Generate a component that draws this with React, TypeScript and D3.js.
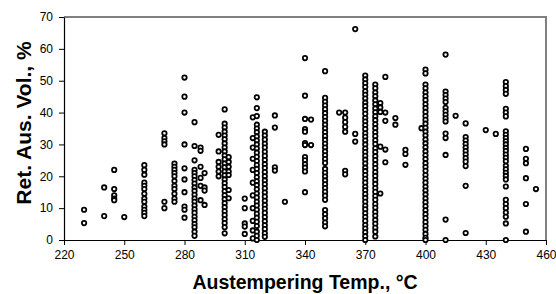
import React, { useRef, useEffect } from "react";
import * as d3 from "d3";

// austempering temperature (°C) of each column of points
const temps = [
  230, 240, 245, 250, 260, 270, 275, 280, 285, 288, 290, 297, 300, 302, 310,
  314, 316, 320, 325, 330, 340, 343, 350, 357, 360, 365, 370, 375, 377.5, 380,
  385, 390, 398, 400, 410, 415, 420, 430, 435, 440, 450, 455,
];

// retained austenite volume (%) for each temperature above
const vols: number[][] = [
  [9.5, 5.3],
  [16.5, 7.5],
  [22, 16, 14, 13, 12.5],
  [7.2],
  [23.5, 22, 20.5, 18, 17, 16, 14.5, 13, 12, 10.5, 9.5, 8.5, 7.5],
  [33.5, 32, 31, 30, 12, 10],
  [24, 23, 22, 21, 20, 18.5, 17, 16, 14.5, 13, 12],
  [51, 45, 40, 30, 22.5, 19, 15, 10.5, 9.5, 7],
  [37, 29.5, 25, 22, 21, 20, 18.8, 17.7, 16.5, 15.4, 14.2, 13, 12, 10.8, 9.6, 8.5, 7.3, 6.2, 5, 4, 2.6, 1.3],
  [29, 28, 23, 19.5, 17, 12.5],
  [21, 16.5, 15.5, 11],
  [33, 27.8, 24.5, 23, 21.5, 20],
  [41, 36.5, 35.3, 34, 32.8, 31.6, 30.3, 29, 27.8, 26.5, 25.3, 24, 22.8, 21.5, 20.3, 19, 17.8, 16.6, 15.3, 14, 12.8, 11.5, 10.3, 9, 7.8, 6.5, 5.3, 4, 2.1],
  [26, 24.5, 23, 21.5, 20.4, 15.7, 13.1],
  [13, 10, 5.2, 4.2, 1.9],
  [38.5, 32, 29, 25.5, 22, 18, 14, 10, 6, 3, 0.5],
  [44.8, 41.4, 38.9, 36.2, 35, 33.8, 32.5, 31.2, 30, 28.7, 27.4, 26.1, 24.8, 23.5, 22.3, 21, 19.7, 18.4, 17.2, 15.9, 14.6, 13.3, 12, 10.8, 9.5, 8.2, 7, 5.7, 4.4, 2.6, 1.3, 0],
  [34, 32.8, 31.5, 30.2, 29, 27.7, 26.4, 25.1, 23.8, 22.6, 21.3, 20, 18.7, 17.5, 16.2, 14.9, 13.6, 12.3, 11, 9.8, 8.5, 7.2, 5.9, 4.6, 3.4, 2.1, 1],
  [39.1, 35.3, 22.8, 21.8],
  [12],
  [57.1, 45.3, 38, 34.8, 34, 30.4, 29.8, 26, 25, 23.8, 22.7, 21.5, 15],
  [37.8, 29.8],
  [53, 44.6, 43.4, 42.2, 41, 39.8, 38.6, 37.4, 36.2, 35, 33.8, 32.6, 31.4, 30.2, 29, 27.8, 26.6, 25.4, 24.2, 22.3, 21.1, 19.9, 18.7, 17.5, 16.3, 15.1, 13.9, 12.6, 9.4, 8.1, 6.8, 5.5, 4.3],
  [40],
  [40, 38.4, 37, 35.5, 34, 21.7, 20.6],
  [66.2, 33.3, 30.9],
  [51.6, 50.4, 49.2, 48, 46.7, 45.6, 44.4, 43.1, 42, 40.8, 39.6, 38.3, 37.2, 36, 34.8, 33.5, 32.4, 31.2, 30, 28.7, 27.6, 26.4, 25.2, 24, 22.7, 21.6, 20.4, 19.2, 18, 16.7, 15.6, 14.4, 13.2, 12, 10.7, 9.6, 8.4, 7.2, 6, 4.7, 3.6, 2.4, 1.2, 0],
  [48.8, 47.6, 46.3, 45.1, 43.8, 42.6, 41.3, 40.1, 38.8, 37.6, 36.3, 35.1, 33.8, 32.6, 31.3, 30.1, 28.8, 27.6, 26.3, 25.1, 23.8, 22.6, 21.3, 20.1, 18.8, 17.6, 16.3, 15.1, 13.8, 12.6, 11.3, 10.1, 8.8, 7.6, 6.3, 5.1, 3.8, 2.6, 1.1],
  [43, 41.6, 40.2, 29.3, 14.6],
  [51.2, 40, 37.4, 28.4, 24.4],
  [38.3, 36.2],
  [28.3, 27, 23.6],
  [35.1],
  [53.5, 52.3, 48.8, 47.6, 46.3, 45.1, 43.9, 42.6, 41.4, 40.2, 38.9, 37.7, 36.5, 35.2, 34, 32.8, 31.5, 30.3, 29.1, 27.8, 26.6, 25.4, 24.1, 22.9, 21.7, 20.4, 19.2, 18, 16.7, 15.5, 14.3, 13, 11.8, 10.6, 9.3, 8.1, 6.9, 5.6, 4.4, 3.2, 1.9, 0.7, 0],
  [58.2, 46.6, 45.5, 44.4, 43.3, 41.5, 40.4, 39.3, 38.2, 37.2, 33.4, 32, 26.7, 6.4, 0],
  [39],
  [36.6, 32.3, 31.2, 30.1, 29, 27.9, 26.8, 25.7, 24.6, 23.2, 17, 2.2],
  [34.5],
  [33.3],
  [49.6, 48.3, 47.1, 45.9, 41.2, 40, 38.8, 34.1, 33, 32, 31, 30, 28.9, 27.9, 26.8, 25.8, 24.7, 23.3, 22.2, 21.1, 20.1, 19, 16.8, 12.6, 11.3, 10, 8.6, 7.3, 5.2, 0],
  [28.6, 25.5, 24.1, 19.4, 11.3, 2.6],
  [16],
];

const xTicks = [220, 250, 280, 310, 340, 370, 400, 430, 460];
const yTicks = [0, 10, 20, 30, 40, 50, 60, 70];

const App = () => {
  const svgRef = useRef<SVGSVGElement>(null);

  useEffect(() => {
    if (!svgRef.current) return;
    const svg = d3.select(svgRef.current);
    svg.selectAll("*").remove();

    const left = 64, right = 546, top = 17, bottom = 240;
    const font = "'Liberation Sans', Arial, sans-serif";

    const x = d3.scaleLinear().domain([220, 460]).range([left, right]);
    const y = d3.scaleLinear().domain([0, 70]).range([bottom, top]);

    // plot area frame (top/right in grey)
    svg
      .append("path")
      .attr("d", `M${left},${top}H${right}V${bottom}`)
      .attr("fill", "none")
      .attr("stroke", "#808080")
      .attr("stroke-width", 2);

    // x axis
    const gx = svg
      .append("g")
      .attr("transform", `translate(0,${bottom})`)
      .call(d3.axisBottom(x).tickValues(xTicks).tickSize(5).tickSizeOuter(0).tickPadding(5));
    gx.select(".domain").attr("stroke", "#000").attr("stroke-width", 1.2);
    gx.selectAll("line").attr("stroke", "#000");
    gx.selectAll("text").attr("font-size", 12).attr("font-family", font).attr("fill", "#000");

    // y axis
    const gy = svg
      .append("g")
      .attr("transform", `translate(${left},0)`)
      .call(d3.axisLeft(y).tickValues(yTicks).tickSize(5).tickSizeOuter(0).tickPadding(6));
    gy.select(".domain").attr("stroke", "#000").attr("stroke-width", 1.2);
    gy.selectAll("line").attr("stroke", "#000");
    gy.selectAll("text").attr("font-size", 12).attr("font-family", font).attr("fill", "#000");

    // points
    const pts = temps.flatMap((t, i) => vols[i].map((v) => ({ t, v })));
    svg
      .append("g")
      .selectAll("circle")
      .data(pts)
      .enter()
      .append("circle")
      .attr("cx", (d) => x(d.t))
      .attr("cy", (d) => y(d.v))
      .attr("r", 2.2)
      .attr("fill", "#fff")
      .attr("stroke", "#000")
      .attr("stroke-width", 1.8);

    // axis titles
    svg
      .append("text")
      .attr("x", (left + right) / 2)
      .attr("y", 289)
      .attr("text-anchor", "middle")
      .attr("font-family", font)
      .attr("font-weight", "bold")
      .attr("font-size", 19.5)
      .text("Austempering Temp., °C");

    svg
      .append("text")
      .attr("transform", `translate(31,123) rotate(-90)`)
      .attr("text-anchor", "middle")
      .attr("font-family", font)
      .attr("font-weight", "bold")
      .attr("font-size", 21)
      .text("Ret. Aus. Vol., %");
  }, []);

  return (
    <svg
      ref={svgRef}
      width={556}
      height={294}
      style={{ position: "absolute", left: 0, top: 0, background: "#fff" }}
    ></svg>
  );
};

export default App;
